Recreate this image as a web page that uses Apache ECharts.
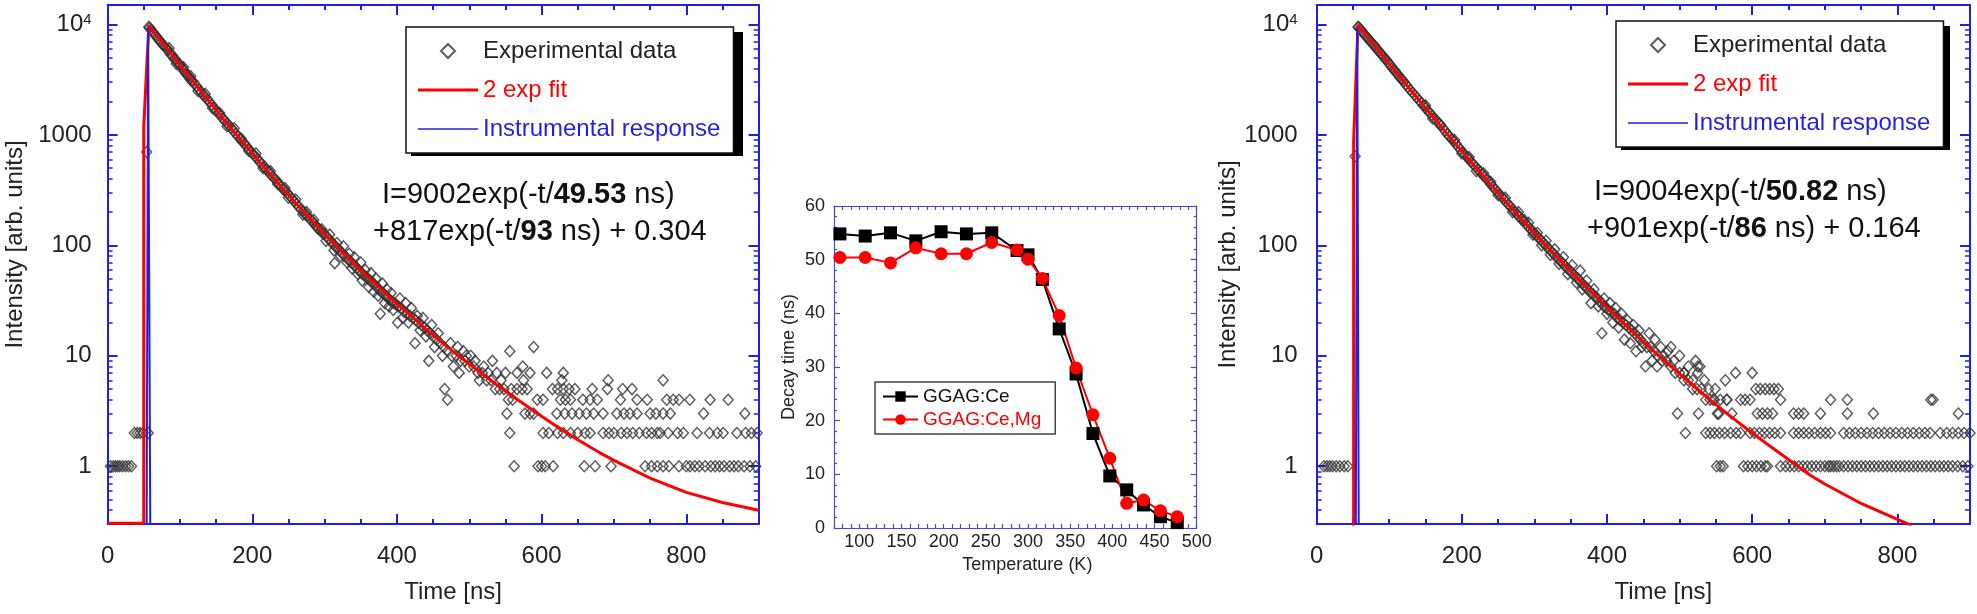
<!DOCTYPE html>
<html>
<head>
<meta charset="utf-8">
<script src="https://cdn.jsdelivr.net/npm/echarts@6/dist/echarts.min.js"></script>
<style>
  html, body { margin: 0; padding: 0; background: #fff; }
  #chart { width: 1977px; height: 614px; }
</style>
</head>
<body>
<div id="chart"></div>
<script>
// ---- left panel: GGAG:Ce decay (t in ns, intensity in arb. units) ----
var leftExp = [
  [4,1],[8,1],[11,1],[14,1],[17,1],[21,1],[25,1],[29,1],[33,1],[37,2],[41,2],[45,2],[49,2],[54,700],[56,2],[57,9500],
  [58,9300],[60,9000],[62,8600],[64,8300],[66,8000],[68,7700],[70,7400],[72,7100],[74,6900],[76,6600],[78,6400],[80,6200],
  [82,6000],[84,5800],[86,5500],[88,5300],[90,5200],[92,4900],[94,4800],[96,4600],[98,4400],[100,4300],[102,4100],[104,3900],
  [106,3800],[108,3600],[110,3500],[112,3400],[114,3200],[116,3100],[118,3050],[120,2900],[123,2750],[126,2600],[129,2450],
  [132,2300],[135,2200],[138,2100],[141,1980],[144,1870],[147,1760],[150,1650],[153,1580],[156,1500],[159,1420],[162,1340],
  [165,1280],[168,1210],[171,1150],[174,1090],[177,1030],[180,970],[183,930],[186,870],[189,840],[192,790],[195,750],[198,700],
  [201,670],[204,640],[207,610],[210,570],[213,550],[216,520],[219,490],[222,470],[225,440],[228,420],[231,400],[234,385],
  [237,360],[240,340],[243,320],[246,310],[249,295],[252,280],[255,265],[258,250],[261,238],[264,225],[267,212],[270,205],
  [273,192],[276,185],[279,175],[282,168],[285,158],[288,150],[291,142],[294,136],[297,130],[300,126],[303,120],[306,113],
  [309,108],[312,103],[315,97],[318,94],[321,90],[324,85],[327,81],[330,78],[333,74],[336,71],[339,68],[342,65],[345,62],
  [348,59],[351,56],[354,54],[357,52],[360,50],[363,48],[366,46],[369,44],[372,42],[375,40],[378,38],[381,37],[384,35],
  [387,34],[390,32],[393,31],[396,30],[399,29],[402,28],[406,27],[410,25],[414,24],[418,23],[422,22],[426,21],[430,20],
  [434,19],[438,18],[442,17],[446,16],[450,15],[455,14],[460,13],[465,12],[470,11],[476,10],[482,10],[488,9],[494,9],
  [500,8],[506,8],[512,7],[518,7],[524,6],[530,6],[536,5],[542,5],[548,5],[554,4],[560,4],
  [85,6100],[95,4400],[105,4100],[115,3400],[125,2500],[135,2350],[145,1750],[155,1580],[165,1200],[175,1150],[185,920],
  [195,720],[205,680],[215,500],[225,470],[235,360],[245,330],[250,270],[260,260],[270,190],[275,200],[285,170],[290,145],
  [296,140],[302,110],[307,125],[313,90],[314,69],[317,105],[322,80],[326,98],[331,70],[334,84],[338,62],[341,78],[346,55],
  [350,70],[352,48],[356,60],[361,42],[364,56],[368,38],[371,50],[374,35],[377,24],[380,45],[383,30],[386,40],[389,28],
  [392,37],[395,26],[401,20],[404,33],[408,22],[412,30],[416,20],[420,27],[425,13],[428,23],[432,17],[436,22],[440,15],
  [444,9],[448,19],[452,12],[457,16],[463,10],[466,5],[470,4],[474,13],[478,8],[484,12],[486,7],[492,11],[496,10],[502,10],
  [508,9],[514,6],[520,8],[526,7],[532,9],[538,7],[544,6],[550,7],[556,11],[558,5],[574,8],[589,12]
];
// late-time counts sit on integer levels: arrival times per level
var leftLevel1 = [562,595,600,605,616,659,674,696,743,752,760,768,776,790,800,805,812,818,826,834,840,846,852,860,866,872,880,888,896];
var leftLevel2 = [556,602,610,622,630,640,650,660,667,685,693,700,710,718,726,735,745,752,760,764,775,788,796,815,832,843,851,870,882,890,898];
var leftLevel3 = [552,577,584,589,621,632,642,652,662,672,685,704,714,722,732,750,758,768,778,824,881];
var leftLevel4 = [594,602,626,633,640,657,667,677,709,732,746,773,782,790,805,833,858];
var leftLevel5 = [566,573,580,615,622,630,638,646,670,691,712,725];
var leftLevel6 = [575,628,692,768];
var leftLevel7 = [566,584,607,630];
var leftFit = [
  [0,0.304],[50,0.304],[50,1200],[57,9800],[60,9260],[70,7640],[80,6300],[90,5200],[100,4290],[120,2940],[140,2020],
  [160,1395],[180,970],[200,678],[220,477],[240,338],[260,242],[280,174],[300,127],[320,93],[340,69],[360,51.5],[380,38.9],
  [400,29.5],[420,22.7],[440,17.5],[460,13.6],[480,10.7],[500,8.4],[520,6.7],[540,5.35],[560,4.3],[580,3.5],[600,2.84],
  [620,2.32],[650,1.74],[680,1.33],[700,1.13],[750,0.78],[800,0.58],[850,0.47],[900,0.40]
];
var leftIrf = [[54,0.3],[56,9400],[59,0.3]];

// ---- middle panel: decay time vs temperature ----
var tempK   = [77,107,137,167,197,227,257,287,300,317,337,357,377,397,417,437,457,477];
var tauCe   = [54.8,54.4,55.0,53.5,55.2,54.8,55.0,51.7,50.9,46.3,37.1,28.7,17.6,9.7,7.1,4.3,2.1,1.0];
var tauCeMg = [50.4,50.4,49.4,52.2,51.1,51.1,53.2,51.8,50.1,46.5,39.6,29.8,21.1,13.0,4.6,5.2,3.2,2.1];

// ---- right panel: GGAG:Ce,Mg decay ----
var rightExp = [
  [10,1],[14,1],[18,1],[22,1],[27,1],[32,1],[38,1],[43,1],[53,640],[57,9500],
  [58,9400],[60,9100],[62,8800],[64,8400],[66,8100],[68,7800],[70,7600],[72,7300],[74,7000],[76,6800],[78,6600],[80,6400],
  [82,6100],[84,5900],[86,5700],[88,5500],[90,5300],[92,5100],[94,4900],[96,4800],[98,4600],[100,4400],[102,4250],[104,4050],
  [106,3900],[108,3800],[110,3650],[112,3500],[114,3350],[116,3250],[118,3150],[120,3040],[123,2850],[126,2700],[129,2550],
  [132,2420],[135,2300],[138,2180],[141,2060],[144,1960],[147,1850],[150,1750],[153,1660],[156,1580],[159,1500],[162,1420],
  [165,1350],[168,1280],[171,1210],[174,1150],[177,1090],[180,1016],[183,970],[186,920],[189,870],[192,830],[195,780],
  [198,740],[201,700],[204,665],[207,630],[210,600],[213,570],[216,540],[219,515],[222,490],[225,465],[228,440],[231,420],
  [234,400],[237,380],[240,355],[243,340],[246,320],[249,305],[252,290],[255,275],[258,262],[261,248],[264,235],[267,225],
  [270,212],[273,202],[276,192],[279,182],[282,173],[285,165],[288,157],[291,149],[294,142],[297,135],[300,129],[303,122],
  [306,117],[309,111],[312,106],[315,101],[318,96],[321,91],[324,87],[327,83],[330,79],[333,75],[336,72],[339,69],[342,65],
  [345,62],[348,60],[351,57],[354,54],[357,52],[360,50],[363,47],[366,45],[369,43],[372,41],[375,39],[378,37],[381,36],
  [384,34],[387,33],[390,31],[393,30],[396,28],[399,27],[402,26],[406,25],[410,24],[414,22],[418,21],[422,20],[426,19],
  [430,18],[434,17],[438,16],[442,15],[446,14],[450,13],[455,12],[460,12],[465,11],[470,10],[476,9],[482,9],[488,8],
  [494,7],[500,7],[506,6],[512,6],[518,5],[524,5],[530,5],[536,4],[542,4],[548,4],[554,3],
  [150,1850],[160,1400],[170,1250],[190,900],[200,680],[210,630],[220,470],[230,450],[240,375],[250,285],[260,270],[270,200],
  [278,200],[286,170],[292,160],[298,125],[304,130],[310,100],[316,110],[322,82],[328,92],[334,68],[340,78],[346,55],
  [352,66],[358,46],[363,59],[366,40],[372,48],[378,30],[382,40],[388,28],[393,16],[396,33],[400,24],[404,30],[408,20],
  [412,27],[416,18],[420,24],[424,14],[428,21],[432,13],[436,19],[440,11],[444,17],[448,12],[453,8],[458,16],[462,9],
  [466,14],[469,8],[474,12],[478,10],[484,11],[488,12],[492,9],[500,10],[506,7],[512,8],[518,6],[522,9],[525,8],[528,8],
  [534,6],[540,5],[546,4],[556,4],[565,4]
];
var rightLevel1 = [551,556,560,588,594,600,606,612,618,621,639,646,652,658,664,670,676,682,688,694,700,705,708,712,716,720,
  726,732,738,744,750,756,762,768,774,780,786,792,798,804,810,816,822,828,834,840,846,852,858,864,870,876,883,890,897];
var rightLevel2 = [508,536,542,548,555,562,570,578,584,597,603,610,617,624,631,639,657,664,671,678,686,694,701,708,726,734,
  742,750,758,766,774,782,790,798,806,814,822,830,838,845,859,868,876,884,892,900];
var rightLevel3 = [497,526,552,572,607,614,621,628,657,664,671,694,731,767,884];
var rightLevel4 = [565,584,590,597,639,708,731,846,849];
var rightLevel5 = [549,605,611,618,624,630,636];
var rightLevel6 = [563];
var rightLevel7 = [506,525,577,600];
var rightFit = [
  [0,0.164],[51,0.164],[51,880],[57,9900],[60,9360],[70,7750],[80,6420],[90,5320],[100,4410],[120,3040],[140,2100],
  [160,1460],[180,1016],[200,711],[220,500],[240,353],[260,251],[280,180],[300,129],[320,93],[340,68],[360,50],[380,37],
  [400,27.4],[420,20.5],[440,15.4],[460,11.7],[480,8.9],[500,6.85],[520,5.3],[540,4.1],[560,3.2],[580,2.52],[600,2.0],
  [620,1.6],[650,1.15],[680,0.83],[700,0.69],[750,0.46],[800,0.33],[820,0.29]
];
var rightIrf = [[54,0.3],[56,9400],[58,0.3]];

function withLevels(points, levels) {
  var out = points.slice();
  levels.forEach(function (ts, i) {
    ts.forEach(function (t) { out.push([t, i + 1]); });
  });
  return out;
}
var leftScatter = withLevels(leftExp, [leftLevel1, leftLevel2, leftLevel3, leftLevel4, leftLevel5, leftLevel6, leftLevel7]);
var rightScatter = withLevels(rightExp, [rightLevel1, rightLevel2, rightLevel3, rightLevel4, rightLevel5, rightLevel6, rightLevel7]);

var FONT = "'Liberation Sans', Arial, sans-serif";
var BLUE = '#1f1fe6';
var INK = '#222';

function decayX(grid, pos, shift) {
  var bottom = pos === 'bottom';
  return {
    type: 'value', gridIndex: grid, position: pos, min: 0, max: 900, interval: 200,
    axisLine: { show: true, onZero: false, lineStyle: { color: BLUE, width: 2 } },
    axisTick: { show: true, inside: true, length: 10, lineStyle: { color: BLUE, width: 2 } },
    minorTick: { show: true, splitNumber: 4, length: 5, lineStyle: { color: BLUE, width: 2 } },
    splitLine: { show: false },
    axisLabel: {
      show: bottom, margin: 20, fontSize: 24, color: INK, fontFamily: FONT,
      formatter: function (v) { return v % 200 === 0 ? String(v) : ''; }
    },
    name: bottom ? 'Time [ns]' : '', nameLocation: 'middle', nameGap: 56,
    nameTextStyle: { fontSize: 24, color: INK, fontFamily: FONT, padding: [0, 0, 0, shift] }
  };
}
function decayY(grid, pos, gap, margin, shift) {
  var left = pos === 'left';
  return {
    type: 'log', logBase: 10, gridIndex: grid, position: pos, min: 0.3, max: 15000,
    axisLine: { show: true, onZero: false, lineStyle: { color: BLUE, width: 2 } },
    axisTick: { show: true, inside: true, length: 10, lineStyle: { color: BLUE, width: 2 } },
    minorTick: { show: true, splitNumber: 9, length: 5, lineStyle: { color: BLUE, width: 1.5 } },
    splitLine: { show: false },
    axisLabel: {
      show: left, margin: margin, fontSize: 24, color: INK, fontFamily: FONT,
      formatter: function (v) {
        var e = Math.log(v) / Math.LN10;
        if (Math.abs(e - Math.round(e)) > 1e-6) return '';
        if (Math.round(e) >= 4) return '10{sup|' + Math.round(e) + '}';
        return String(Math.round(v));
      },
      rich: { sup: { fontSize: 15, verticalAlign: 'top', color: INK, fontFamily: FONT, padding: [0, 0, 10, 0] } }
    },
    name: left ? 'Intensity [arb. units]' : '', nameLocation: 'middle', nameGap: gap,
    nameTextStyle: { fontSize: 24, color: INK, fontFamily: FONT, padding: [0, 0, 0, shift] }
  };
}
function tempX(grid, pos) {
  var bottom = pos === 'bottom';
  return {
    type: 'value', gridIndex: grid, position: pos, min: 70, max: 500, interval: 10,
    axisLine: { show: true, onZero: false, lineStyle: { color: '#4a4ad8', width: 1.2 } },
    axisTick: { show: true, inside: true, length: 4, lineStyle: { color: '#4a4ad8', width: 1.2 } },
    splitLine: { show: false },
    axisLabel: {
      show: bottom, margin: 5, fontSize: 18, color: INK, fontFamily: FONT,
      formatter: function (v) { return v % 50 === 0 ? String(v) : ''; }
    },
    name: bottom ? 'Temperature (K)' : '', nameLocation: 'middle', nameGap: 28,
    nameTextStyle: { fontSize: 18, color: INK, fontFamily: FONT, padding: [0, 0, 0, 24] }
  };
}
function tauY(grid, pos) {
  var left = pos === 'left';
  return {
    type: 'value', gridIndex: grid, position: pos, min: 0, max: 60, interval: 10,
    axisLine: { show: true, onZero: false, lineStyle: { color: '#4a4ad8', width: 1.2 } },
    axisTick: { show: true, inside: true, length: 6, lineStyle: { color: '#4a4ad8', width: 1.2 } },
    minorTick: { show: true, splitNumber: 5, length: 3, lineStyle: { color: '#4a4ad8', width: 1.2 } },
    splitLine: { show: false },
    axisLabel: { show: left, margin: 9, fontSize: 18, color: INK, fontFamily: FONT },
    name: left ? 'Decay time (ns)' : '', nameLocation: 'middle', nameGap: 36,
    nameTextStyle: { fontSize: 18, color: INK, fontFamily: FONT, padding: [0, 0, 0, 20] }
  };
}

var diamond = {
  symbol: 'diamond', symbolSize: [10, 11], symbolKeepAspect: true,
  itemStyle: { color: 'rgba(255,255,255,0)', borderColor: '#333', borderWidth: 1.5 }
};

function decayLegend(left, top) {
  return {
    left: left, top: top, orient: 'vertical', selectedMode: false, z: 10,
    padding: [12, 13, 12, 12], itemGap: 15, itemWidth: 60, itemHeight: 14, symbolKeepAspect: true,
    backgroundColor: '#fff', borderColor: '#111', borderWidth: 1.5,
    textStyle: { fontSize: 24, fontFamily: FONT },
    data: [
      { name: 'Experimental data', icon: 'path://M5,0L10,5L5,10L0,5Z', textStyle: { color: INK } },
      { name: '2 exp fit', icon: 'path://M0,0H60V3H0Z', textStyle: { color: '#ff0000' } },
      { name: 'Instrumental response', icon: 'path://M0,0H60V1.5H0Z', textStyle: { color: BLUE } }
    ]
  };
}
function legendShadow(left, top, w, h) {
  return { type: 'rect', left: left, top: top, z: 9, shape: { width: w, height: h }, style: { fill: '#000' } };
}
function formula(left, top, head, bold, tail) {
  var n = { fontSize: 29, fontFamily: FONT, fill: '#111' };
  var b = { fontSize: 29, fontFamily: FONT, fill: '#111', fontWeight: 'bold' };
  return { type: 'text', left: left, top: top, z: 10,
    style: { text: '{n|' + head + '}{b|' + bold + '}{n|' + tail + '}', rich: { n: n, b: b } } };
}

var chart = echarts.init(document.getElementById('chart'), null, { renderer: 'canvas' });
chart.setOption({
  animation: false,
  backgroundColor: '#fff',
  textStyle: { fontFamily: FONT },
  grid: [
    { left: 107.6, top: 5, width: 651, height: 519, outerBoundsMode: 'none' },
    { left: 834, top: 206, width: 362.7, height: 322, outerBoundsMode: 'none' },
    { left: 1316.6, top: 5, width: 653.4, height: 519, outerBoundsMode: 'none' }
  ],
  xAxis: [
    decayX(0, 'bottom', 40), decayX(0, 'top', 0),
    tempX(1, 'bottom'), tempX(1, 'top'),
    decayX(2, 'bottom', 40), decayX(2, 'top', 0)
  ],
  yAxis: [
    decayY(0, 'left', 80, 16, 40), decayY(0, 'right', 0, 0, 0),
    tauY(1, 'left'), tauY(1, 'right'),
    decayY(2, 'left', 66, 19, 0), decayY(2, 'right', 0, 0, 0)
  ],
  legend: [
    decayLegend(406, 27),
    {
      left: 875, top: 382, orient: 'vertical', selectedMode: false,
      padding: [5, 14, 5, 7], itemGap: 4, itemWidth: 35, itemHeight: 13,
      backgroundColor: '#fff', borderColor: '#444', borderWidth: 1.5,
      textStyle: { fontSize: 19, fontFamily: FONT },
      data: [
        { name: 'GGAG:Ce', textStyle: { color: '#111' } },
        { name: 'GGAG:Ce,Mg', textStyle: { color: '#ff0000' } }
      ]
    },
    decayLegend(1616, 21)
  ],
  graphic: [
    legendShadow(411, 32, 332, 124),
    legendShadow(1621, 26, 329, 124),
    formula(382, 180, 'I=9002exp(-t/', '49.53', ' ns)'),
    formula(373, 217, '+817exp(-t/', '93', ' ns) + 0.304'),
    formula(1594, 177, 'I=9004exp(-t/', '50.82', ' ns)'),
    formula(1587, 214, '+901exp(-t/', '86', ' ns) + 0.164')
  ],
  series: [
    Object.assign({ type: 'scatter', name: 'Experimental data', xAxisIndex: 0, yAxisIndex: 0, data: leftScatter, z: 2 }, diamond),
    { type: 'line', name: '2 exp fit', xAxisIndex: 0, yAxisIndex: 0, data: leftFit, symbol: 'none', z: 3,
      lineStyle: { color: '#ff0000', width: 3 }, itemStyle: { color: '#ff0000' } },
    { type: 'line', name: 'Instrumental response', xAxisIndex: 0, yAxisIndex: 0, data: leftIrf, symbol: 'none', z: 4,
      lineStyle: { color: BLUE, width: 2 }, itemStyle: { color: BLUE } },

    { type: 'line', name: 'GGAG:Ce', xAxisIndex: 2, yAxisIndex: 2, symbol: 'rect', symbolSize: 13,
      data: tempK.map(function (t, i) { return [t, tauCe[i]]; }),
      lineStyle: { color: '#000', width: 2 }, itemStyle: { color: '#000' } },
    { type: 'line', name: 'GGAG:Ce,Mg', xAxisIndex: 2, yAxisIndex: 2, symbol: 'circle', symbolSize: 13,
      data: tempK.map(function (t, i) { return [t, tauCeMg[i]]; }),
      lineStyle: { color: '#ff0000', width: 2 }, itemStyle: { color: '#ff0000' } },

    Object.assign({ type: 'scatter', name: 'Experimental data', xAxisIndex: 4, yAxisIndex: 4, data: rightScatter, z: 2 }, diamond),
    { type: 'line', name: '2 exp fit', xAxisIndex: 4, yAxisIndex: 4, data: rightFit, symbol: 'none', z: 3,
      lineStyle: { color: '#ff0000', width: 3 }, itemStyle: { color: '#ff0000' } },
    { type: 'line', name: 'Instrumental response', xAxisIndex: 4, yAxisIndex: 4, data: rightIrf, symbol: 'none', z: 4,
      lineStyle: { color: BLUE, width: 2 }, itemStyle: { color: BLUE } }
  ]
});
</script>
</body>
</html>
